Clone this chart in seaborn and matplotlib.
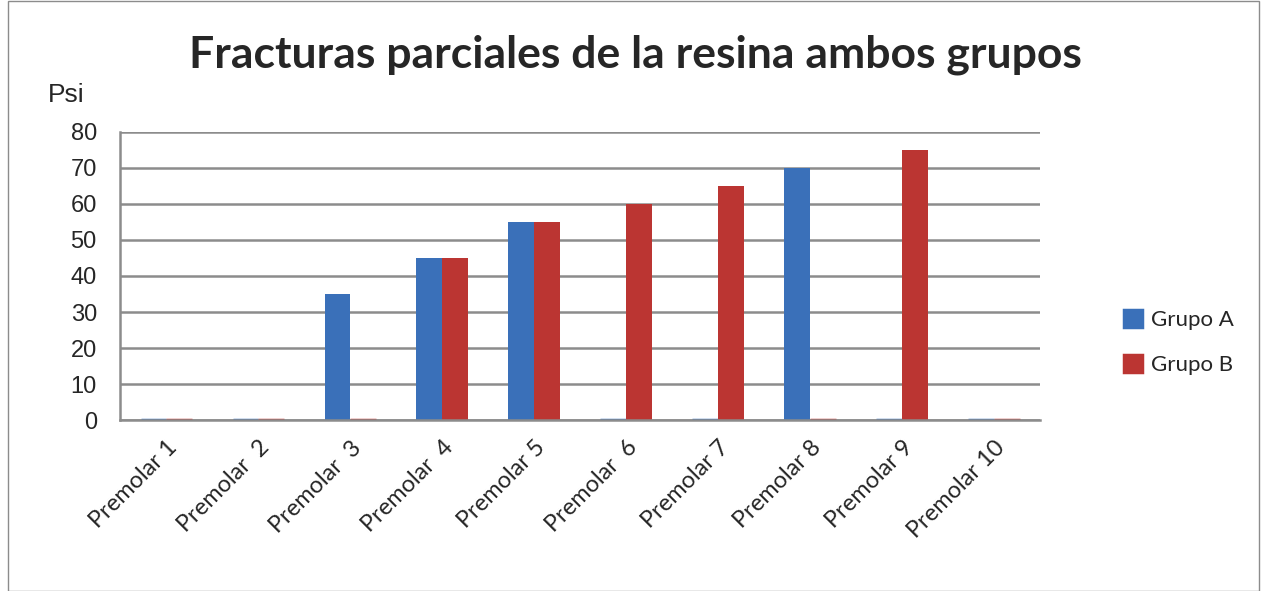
import pandas as pd
import numpy as np
import matplotlib.pyplot as plt
import seaborn as sns
from matplotlib.patches import Rectangle

# datos
premolares = ['Premolar 1', 'Premolar  2', 'Premolar  3', 'Premolar  4', 'Premolar 5',
              'Premolar  6', 'Premolar 7', 'Premolar 8', 'Premolar 9', 'Premolar 10']
grupo_a = [0, 0, 35, 45, 55, 0, 0, 70, 0, 0]
grupo_b = [0, 0, 0, 45, 55, 60, 65, 0, 75, 0]

df = pd.DataFrame({'premolar': premolares * 2,
                   'psi': grupo_a + grupo_b,
                   'grupo': ['Grupo A'] * len(premolares) + ['Grupo B'] * len(premolares)})

sns.set_style('white')
plt.rcParams['font.family'] = ['Lato', 'DejaVu Sans']

fig = plt.figure(figsize=(12.68, 5.91), dpi=100)
ax = fig.add_axes([0.095, 0.289, 0.725, 0.488])

sns.barplot(data=df, x='premolar', y='psi', hue='grupo',
            palette={'Grupo A': '#3a70b9', 'Grupo B': '#bb3532'}, saturation=1,
            width=0.56, linewidth=0, ax=ax)

# barras en cero se ven como un trazo fino
for p in ax.patches:
    if p.get_height() == 0:
        p.set_edgecolor(p.get_facecolor())
        p.set_linewidth(2.5)

ax.set_ylim(0, 80)
ax.set_xlim(-0.5, 9.5)
ax.set_yticks(range(0, 81, 10))
ax.yaxis.grid(True, color='#8c8c8c', linewidth=1.8)
ax.set_axisbelow(True)
for s in ['top', 'right']:
    ax.spines[s].set_visible(False)
ax.spines['left'].set_color('#8c8c8c')
ax.spines['left'].set_linewidth(1.8)
ax.spines['bottom'].set_color('#8c8c8c')
ax.spines['bottom'].set_linewidth(1.8)

ax.set_xlabel('')
ax.set_ylabel('')
ax.tick_params(axis='y', length=0, pad=17, labelsize=17)
for t in ax.get_yticklabels():
    t.set_family(['Liberation Sans', 'DejaVu Sans'])
ax.tick_params(axis='x', length=0, pad=12, labelsize=17)
plt.setp(ax.get_xticklabels(), rotation=45, ha='right', rotation_mode='anchor')

fig.text(0.038, 0.828, 'Psi', fontsize=19, family=['Liberation Sans', 'DejaVu Sans'])
fig.suptitle('Fracturas parciales de la resina ambos grupos', x=0.501, y=0.942,
             fontsize=32, fontweight='bold')

leg = ax.legend(loc='center left', bbox_to_anchor=(1.07, 0.27), frameon=False,
                fontsize=16, handlelength=0.8, handleheight=0.8, labelspacing=1.1,
                handletextpad=0.4)

fig.patches.append(Rectangle((0.006, 0.0), 0.987, 0.998, transform=fig.transFigure,
                             fill=False, edgecolor='#8c8c8c', linewidth=1))

fig.savefig('out.png', dpi=100)
